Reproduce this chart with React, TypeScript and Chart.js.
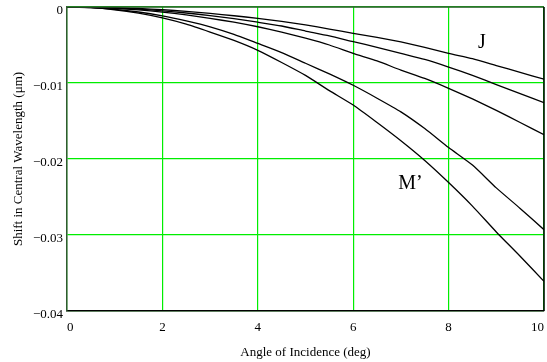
import React, { useEffect, useRef } from "react";
import { Chart, registerables } from "chart.js";

Chart.register(...registerables);

const angles = [0, 0.5, 1, 1.5, 2, 2.5, 3, 3.5, 4, 4.5, 5, 5.5, 6, 6.5, 7, 7.5, 8, 8.5, 9, 9.5, 10];
const curveJ = [0, -0.00002, -0.0001, -0.0002, -0.00035, -0.00058, -0.00085, -0.00115, -0.00149, -0.0019, -0.00236, -0.0029, -0.00346, -0.004, -0.0046, -0.0053, -0.0061, -0.0068, -0.0077, -0.0086, -0.0095];
const curveB = [0, -0.00003, -0.00013, -0.00028, -0.0005, -0.00079, -0.00113, -0.00153, -0.002, -0.0025, -0.00316, -0.0038, -0.00456, -0.0053, -0.0061, -0.0069, -0.0079, -0.009, -0.0102, -0.0114, -0.0126];
const curveC = [0, -0.00004, -0.00017, -0.00038, -0.00067, -0.00104, -0.0015, -0.002, -0.0026, -0.0033, -0.0041, -0.005, -0.0061, -0.0071, -0.0083, -0.0094, -0.0107, -0.0121, -0.0136, -0.0152, -0.0168];
const curveD = [0, -0.00007, -0.0003, -0.00066, -0.00117, -0.00183, -0.0026, -0.0036, -0.0048, -0.006, -0.0074, -0.0088, -0.0103, -0.012, -0.0138, -0.016, -0.0185, -0.0208, -0.0238, -0.0265, -0.0293];
const curveM = [0, -0.00009, -0.00036, -0.00081, -0.00144, -0.00226, -0.0033, -0.0044, -0.0057, -0.0073, -0.009, -0.011, -0.0129, -0.0152, -0.0176, -0.0202, -0.0231, -0.0262, -0.0296, -0.0328, -0.0361];
const allCurves = [curveJ, curveB, curveC, curveD, curveM];

const labelTexts = ["J", "M\u2019"];
const labelXs = [8.7, 7.2];
const labelYs = [-0.0047, -0.0232];

const xTitle = "Angle of Incidence (deg)";
const yTitle = "Shift in Central Wavelength (\u03bcm)";

const SERIF = '"Liberation Serif", "Times New Roman", serif';
const GRID_GREEN = "#00ee00";

export default function App() {
  const ref = useRef<HTMLCanvasElement | null>(null);

  useEffect(() => {
    if (!ref.current) return;
    const annot = {
      id: "annot",
      afterDatasetsDraw(chart: any) {
        const { ctx, chartArea, scales } = chart;
        const x = scales.x;
        const y = scales.y;
        ctx.save();
        ctx.lineWidth = 1.5;
        ctx.strokeStyle = "#2f5a2f";
        ctx.beginPath();
        ctx.moveTo(chartArea.left, chartArea.top);
        ctx.lineTo(chartArea.right, chartArea.top);
        ctx.stroke();
        ctx.strokeStyle = "#000";
        ctx.beginPath();
        ctx.moveTo(chartArea.right, chartArea.top);
        ctx.lineTo(chartArea.right, chartArea.bottom);
        ctx.stroke();
        ctx.fillStyle = "#000";
        ctx.font = "20px " + SERIF;
        ctx.textAlign = "center";
        ctx.textBaseline = "middle";
        labelTexts.forEach((t, i) => {
          ctx.fillText(t, x.getPixelForValue(labelXs[i]), y.getPixelForValue(labelYs[i]));
        });
        ctx.restore();
      },
    };

    const chart = new Chart(ref.current, {
      type: "line",
      data: {
        datasets: allCurves.map((c, i) => ({
          label: "s" + i,
          data: angles.map((a, j) => ({ x: a, y: c[j] })),
          borderColor: "#000",
          borderWidth: 1.3,
          pointRadius: 0,
          tension: 0.2,
          fill: false,
        })),
      },
      options: {
        animation: false,
        responsive: true,
        maintainAspectRatio: false,
        layout: { padding: { top: 7, right: 3, left: 0, bottom: 0 } },
        plugins: { legend: { display: false }, tooltip: { enabled: false } },
        scales: {
          x: {
            type: "linear",
            min: 0,
            max: 10,
            afterFit(scale: any) {
              scale.height = 51;
              scale.paddingLeft = 0;
              scale.paddingRight = 0;
            },
            ticks: {
              stepSize: 2,
              align: "inner",
              padding: 9,
              color: "#000",
              font: { family: SERIF, size: 13 },
            },
            grid: { color: GRID_GREEN, tickColor: GRID_GREEN, lineWidth: 1.2, drawTicks: false, tickLength: 0 },
            border: { color: "#000", width: 1.5 },
            title: {
              display: true,
              text: xTitle,
              color: "#000",
              font: { family: SERIF, size: 13 },
              padding: { top: 0, bottom: 2 },
            },
          },
          y: {
            type: "linear",
            min: -0.04,
            max: 0,
            afterFit(scale: any) {
              scale.width = 67;
              scale.paddingTop = 0;
              scale.paddingBottom = 0;
            },
            ticks: {
              stepSize: 0.01,
              padding: 4,
              labelOffset: 4,
              color: "#000",
              font: { family: SERIF, size: 13 },
              callback: (v: any) => {
                const n = Number(v);
                if (Math.abs(n) < 1e-9) return "0";
                return "\u2212" + Math.abs(n).toFixed(2);
              },
            },
            grid: { color: GRID_GREEN, tickColor: GRID_GREEN, lineWidth: 1.2, drawTicks: false, tickLength: 0 },
            border: { color: "#2f5a2f", width: 1.5 },
            title: {
              display: true,
              text: yTitle,
              color: "#000",
              font: { family: SERIF, size: 13 },
              padding: { top: 11, bottom: 0 },
            },
          },
        },
      },
      plugins: [annot],
    });
    return () => chart.destroy();
  }, []);

  return (
    <div style={{ position: "fixed", left: 0, top: 0, width: 547, height: 362, background: "#fff" }}>
      <canvas ref={ref} />
    </div>
  );
}
